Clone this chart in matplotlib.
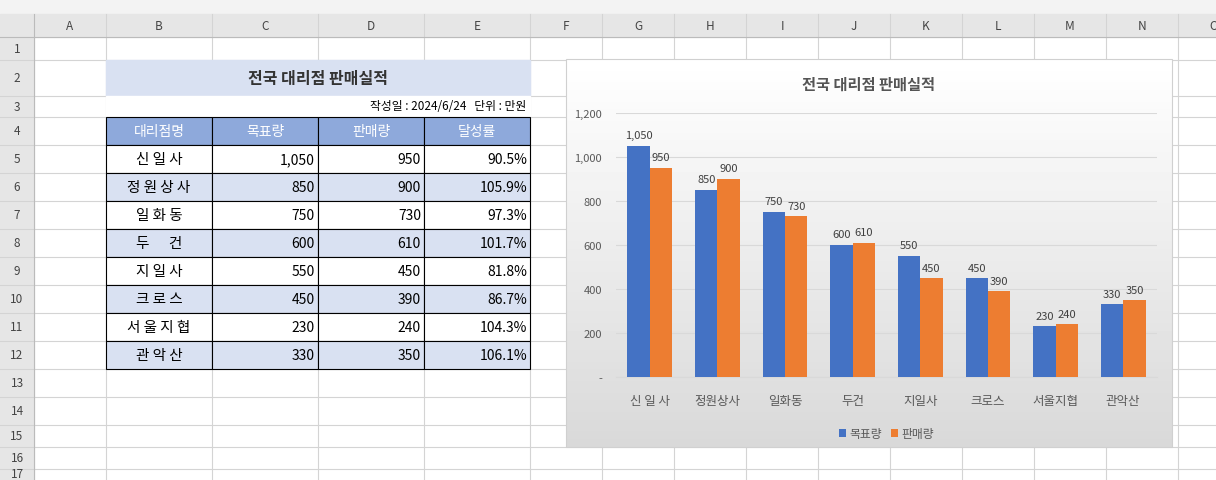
import matplotlib.pyplot as plt
from matplotlib.patches import Rectangle
import numpy as np

plt.rcParams['font.family'] = ['Noto Sans CJK KR', 'DejaVu Sans']

# data
stores = ['신 일 사', '정 원 상 사', '일 화 동', '두      건', '지 일 사', '크 로 스', '서 울 지 협', '관 악 산']
chart_labels = ['신 일 사', '정원상사', '일화동', '두건', '지일사', '크로스', '서울지협', '관악산']
target = [1050, 850, 750, 600, 550, 450, 230, 330]
sales = [950, 900, 730, 610, 450, 390, 240, 350]
rate = ['90.5%', '105.9%', '97.3%', '101.7%', '81.8%', '86.7%', '104.3%', '106.1%']
col_letters = list('ABCDEFGHIJKLMNO')
col_edges = [34, 106, 212, 318, 424, 530, 602, 674, 746, 818, 890, 962, 1034, 1106, 1178, 1250]
row_edges = [38, 61, 97, 118, 146, 174, 202, 230, 258, 286, 314, 342, 370, 398, 426, 448, 470, 492]

W, H = 1216, 481
fig = plt.figure(figsize=(W / 100, H / 100), dpi=100)
bg = fig.add_axes([0, 0, 1, 1])
bg.set_xlim(0, W)
bg.set_ylim(H, 0)
bg.axis('off')

# header bars
bg.add_patch(Rectangle((0, 0), W, 15, color='#F3F3F3'))
bg.add_patch(Rectangle((0, 15), W, 23, color='#E6E6E6'))
bg.add_patch(Rectangle((0, 38), 34, H, color='#E6E6E6'))
for i, c in enumerate(col_letters):
    x0, x1 = col_edges[i], col_edges[i + 1]
    bg.plot([x1, x1], [15, H], color='#D4D4D4', lw=0.8, zorder=1)
    bg.text((x0 + x1) / 2, 27, c, ha='center', va='center', fontsize=8.5, color='#444444')
for r in range(len(row_edges) - 1):
    y0, y1 = row_edges[r], row_edges[r + 1]
    bg.plot([0, W], [y1, y1], color='#D4D4D4', lw=0.8, zorder=1)
    yc = min((y0 + y1) / 2, H - 6)
    bg.text(17, yc, str(r + 1), ha='center', va='center', fontsize=8.5, color='#444444')
bg.plot([34, 34], [15, H], color='#BBBBBB', lw=0.8)
bg.plot([0, W], [38, 38], color='#BBBBBB', lw=0.8)

# table title and note
bg.add_patch(Rectangle((106, 61), 424, 36, color='#D9E1F2', zorder=2))
bg.text(318, 79, '전국 대리점 판매실적', ha='center', va='center', fontsize=11.5, fontweight='bold', color='#333333', zorder=3)
bg.add_patch(Rectangle((106, 97), 424, 21, color='white', zorder=2))
bg.text(526, 107, '작성일 : 2024/6/24   단위 : 만원', ha='right', va='center', fontsize=8.5, zorder=3)

# table
heads = ['대리점명', '목표량', '판매량', '달성률']
for j, h in enumerate(heads):
    x0, x1 = col_edges[1 + j], col_edges[2 + j]
    bg.add_patch(Rectangle((x0, 118), x1 - x0, 28, facecolor='#8EA9DB', edgecolor='black', lw=0.8, zorder=2))
    bg.text((x0 + x1) / 2, 132, h, ha='center', va='center', fontsize=10, color='white', zorder=3)
for i in range(8):
    y0 = row_edges[4 + i]
    fill = '#D9E1F2' if i % 2 else 'white'
    vals = [stores[i], f'{target[i]:,}', f'{sales[i]:,}', rate[i]]
    for j, v in enumerate(vals):
        x0, x1 = col_edges[1 + j], col_edges[2 + j]
        bg.add_patch(Rectangle((x0, y0), x1 - x0, 28, facecolor=fill, edgecolor='black', lw=0.8, zorder=2))
        if j == 0:
            bg.text((x0 + x1) / 2, y0 + 14, v, ha='center', va='center', fontsize=10.5, zorder=3)
        else:
            bg.text(x1 - 3, y0 + 14, v, ha='right', va='center', fontsize=10, zorder=3)

# chart area with gradient
cx0, cx1, cy0, cy1 = 566, 1172, 60, 448
grad = np.linspace(1, 0.85, 100).reshape(-1, 1)
bg.imshow(grad, extent=(cx0, cx1, cy1, cy0), cmap='gray', vmin=0, vmax=1, aspect='auto', zorder=4)
bg.add_patch(Rectangle((cx0, cy0), cx1 - cx0, cy1 - cy0, fill=False, edgecolor='#D0D0D0', lw=0.8, zorder=5))
bg.text((cx0 + cx1) / 2, 85, '전국 대리점 판매실적', ha='center', va='center', fontsize=11, fontweight='bold', color='#555555', zorder=6)

# plot axes
pl, pr, pt, pb = 616, 1157, 114, 378
ax = fig.add_axes([pl / W, 1 - pb / H, (pr - pl) / W, (pb - pt) / H])
ax.patch.set_alpha(0)
x = np.arange(len(target))
w = 0.33
b1 = ax.bar(x - w / 2, target, w, color='#4472C4', zorder=3)
b2 = ax.bar(x + w / 2, sales, w, color='#ED7D31', zorder=3)
for bars, vals in ((b1, target), (b2, sales)):
    for b, v in zip(bars, vals):
        ax.text(b.get_x() + b.get_width() / 2, v + 25, f'{v:,}', ha='center', va='bottom', fontsize=8, color='#404040')
ax.set_xlim(-0.5, 7.5)
ax.set_ylim(0, 1200)
ax.set_yticks(range(0, 1201, 200))
ax.set_yticklabels(['-'] + [f'{v:,}' for v in range(200, 1201, 200)])
ax.set_xticks(x)
ax.set_xticklabels(chart_labels)
ax.tick_params(length=0, labelsize=8, colors='#595959')
ax.tick_params(axis='x', pad=12, labelsize=9)
ax.tick_params(axis='y', pad=10)
ax.grid(axis='y', color='#D9D9D9', lw=0.8, zorder=0)
for s in ['top', 'right', 'left']:
    ax.spines[s].set_visible(False)
ax.spines['bottom'].set_color('#D9D9D9')
ax.legend([b1, b2], ['목표량', '판매량'], loc='upper center', bbox_to_anchor=(0.5, -0.15),
          ncol=2, frameon=False, fontsize=8.5, handlelength=0.6, handleheight=0.6,
          columnspacing=0.8, handletextpad=0.3, labelcolor='#595959')

fig.savefig('out.png', dpi=100)
